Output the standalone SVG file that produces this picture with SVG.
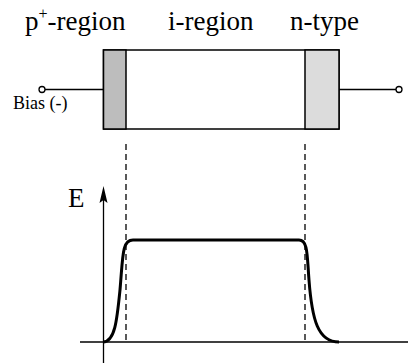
<svg xmlns="http://www.w3.org/2000/svg" width="408" height="363" viewBox="0 0 408 363">
<defs>
<style>
.lbl{font-family:'Liberation Serif','Times New Roman',Times,serif;fill:#000}
.ln{stroke:#000;stroke-width:1.3;fill:none}
.dash{stroke:#000;stroke-width:1.3;stroke-dasharray:6,4;fill:none}
.box{stroke:#000;stroke-width:1.5}
</style>
</defs>
<rect width="408" height="363" fill="#fff"/>
<g id="labels">
<text class="lbl" x="25" y="30" font-size="27">p<tspan font-size="16" dy="-11">+</tspan><tspan dy="11">-region</tspan></text>
<text class="lbl" x="168" y="30" font-size="27">i-region</text>
<text class="lbl" x="290" y="30" font-size="27">n-type</text>
<text class="lbl" x="13" y="109" font-size="18">Bias (-)</text>
</g>
<g id="diode">
<rect class="box" x="103.5" y="50" width="235.5" height="79" fill="#fff"/>
<rect class="box" x="103.5" y="50" width="22.5" height="79" fill="#bdbdbd"/>
<rect class="box" x="305" y="50" width="34" height="79" fill="#dcdcdc"/>
</g>
<g id="connectors">
<line class="ln" x1="45" y1="89.5" x2="103.5" y2="89.5"/>
<line class="ln" x1="339" y1="89.5" x2="396" y2="89.5"/>
<circle class="ln" cx="42" cy="89.5" r="3" fill="#fff"/>
<circle class="ln" cx="399" cy="89.5" r="3" fill="#fff"/>
<line class="dash" x1="126" y1="144" x2="126" y2="342"/>
<line class="dash" x1="305" y1="144" x2="305" y2="342"/>
</g>
<g id="plot">
<line class="ln" x1="80" y1="342" x2="408" y2="342"/>
<line class="ln" x1="103.5" y1="363" x2="103.5" y2="198"/>
<path d="M103.5,186 L107.5,203 L103.5,200 L99.5,203 Z" fill="#000"/>
<text class="lbl" x="68" y="207" font-size="27">E</text>
<path d="M103,342 C115,342 117,320 120,290 C123,255 122,240 133,240 L299,240 C308,240 307,255 309,280 C312,320 318,342 339,342" fill="none" stroke="#000" stroke-width="3"/>
</g>
</svg>
